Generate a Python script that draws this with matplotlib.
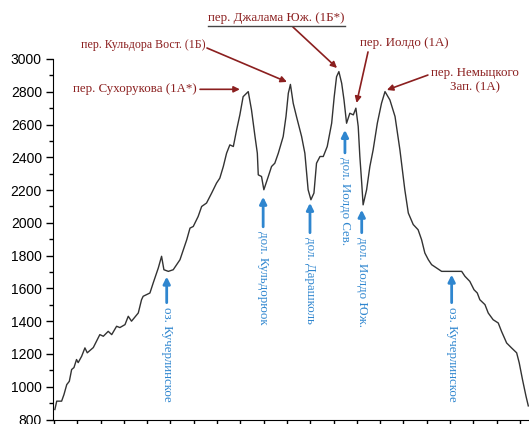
import matplotlib.pyplot as plt
from matplotlib.lines import Line2D

# profile (distance in tick units, elevation m)
dist = [0.04, 0.12, 0.33, 0.43, 0.55, 0.66, 0.76, 0.86, 0.97, 1.04, 1.19, 1.33, 1.43, 1.69,
        1.97, 2.12, 2.33, 2.48, 2.69, 2.83, 3.05, 3.19, 3.33, 3.62, 3.76, 3.83, 4.12, 4.26,
        4.48, 4.62, 4.72, 4.91, 5.12, 5.41, 5.70, 5.84, 5.98, 6.19, 6.34, 6.55, 6.77, 6.98,
        7.12, 7.27, 7.41, 7.55, 7.70, 7.84, 7.98, 8.12, 8.34, 8.48, 8.63, 8.73, 8.77, 8.91,
        9.01, 9.20, 9.34, 9.48, 9.63, 9.84, 9.96, 10.06, 10.15, 10.27, 10.41, 10.63, 10.77,
        10.91, 11.03, 11.16, 11.27, 11.42, 11.56, 11.73, 11.92, 12.03, 12.13, 12.23, 12.35,
        12.45, 12.56, 12.70, 12.85, 12.96, 13.06, 13.13, 13.21, 13.27, 13.42, 13.56, 13.70,
        13.88, 14.06, 14.21, 14.42, 14.64, 14.85, 15.06, 15.21, 15.42, 15.63, 15.78, 15.92,
        16.07, 16.21, 16.42, 16.64, 17.50, 17.64, 17.85, 18.03, 18.17, 18.28, 18.50, 18.64,
        18.85, 19.07, 19.21, 19.43, 19.64, 19.86, 19.97, 20.11, 20.26, 20.36]
elev = [861, 912, 912, 952, 1013, 1033, 1105, 1117, 1166, 1147, 1186, 1237, 1207, 1239,
        1318, 1308, 1338, 1318, 1369, 1361, 1379, 1430, 1400, 1450, 1531, 1552, 1572, 1633,
        1725, 1796, 1714, 1704, 1714, 1775, 1897, 1968, 1978, 2039, 2100, 2121, 2182, 2243,
        2273, 2344, 2425, 2476, 2466, 2567, 2659, 2770, 2801, 2689, 2527, 2425, 2293, 2283,
        2202, 2283, 2344, 2364, 2425, 2527, 2649, 2791, 2845, 2730, 2649, 2527, 2425,
        2202, 2141, 2182, 2364, 2405, 2405, 2466, 2608, 2770, 2892, 2923, 2852,
        2750, 2608, 2669, 2659, 2700, 2588, 2405, 2243, 2110, 2202, 2344, 2445,
        2608, 2730, 2801, 2750, 2649, 2445, 2202, 2060, 1990, 1958, 1897, 1816,
        1775, 1745, 1725, 1704, 1704, 1674, 1643, 1592, 1572, 1531, 1501, 1450,
        1409, 1389, 1338, 1267, 1237, 1207, 1146, 1044, 943, 883]

# passes (red): label, text pos, text align, arrow tail, arrow head
pass_labels = ['пер. Сухорукова (1А*)', 'пер. Кульдора Вост. (1Б)', 'пер. Джалама Юж. (1Б*)',
               'пер. Иолдо (1А)', 'пер. Немыцкого\nЗап. (1А)']
pass_text = [(6.14, 2815), (6.52, 3085), (9.55, 3250), (15.02, 3097), (18.07, 2872)]
pass_ha = ['right', 'right', 'center', 'center', 'center']
pass_size = [9.3, 8.6, 9.3, 9.3, 9.3]
pass_tail = [(6.27, 2815), (6.57, 3067), (10.26, 3195), (13.48, 3043), (16.05, 2902)]
pass_head = [(7.98, 2815), (10.0, 2860), (12.15, 2945), (12.99, 2732), (14.29, 2811)]

# valleys / lakes (blue)
low_labels = ['оз. Кучерлинское', 'дол. Кульдорюок', 'дол. Дарашколь',
              'дол. Иолдо Сев.', 'дол. Иолдо Юж.', 'оз. Кучерлинское']
low_x = [4.84, 8.98, 10.99, 12.49, 13.21, 17.07]
low_head = [1672, 2159, 2122, 2567, 2080, 1684]
low_tail = [1513, 1976, 1940, 2427, 1940, 1513]

red = '#8b1f1f'
blue = '#2f86cf'

fig = plt.figure(figsize=(5.29, 4.24), dpi=100)
ax = fig.add_axes([53/529, 4.5/424, 476/529, 360.5/424])
ax.plot(dist, elev, color='#333333', lw=1)

ax.set_xlim(-0.04, 20.39)
ax.set_ylim(800, 3000)
ax.set_yticks(range(800, 3001, 200))
ax.set_yticks(range(800, 3001, 100), minor=True)
ax.set_xticks(range(0, 21))
ax.set_xticklabels([])
ax.tick_params(axis='y', which='major', direction='out', length=5, width=1, pad=3,
               labelsize=10, labelfontfamily='Liberation Sans')
ax.tick_params(axis='y', which='minor', direction='out', length=3, width=1)
ax.tick_params(axis='x', direction='out', length=6, width=1)
ax.spines['top'].set_visible(False)
ax.spines['right'].set_visible(False)

serif = ['Liberation Serif', 'DejaVu Serif']
texts = []
for lab, tp, ha, fs, tl, hd in zip(pass_labels, pass_text, pass_ha, pass_size, pass_tail, pass_head):
    t = ax.text(tp[0], tp[1], lab, ha=ha, va='center', color=red, fontsize=fs,
                family=serif, multialignment='center', clip_on=False)
    texts.append(t)
    ax.annotate('', xy=hd, xytext=tl, annotation_clip=False,
                arrowprops=dict(arrowstyle='-|>', color=red, lw=1.2, mutation_scale=9,
                                shrinkA=0, shrinkB=0))

for lab, x, hy, ty in zip(low_labels, low_x, low_head, low_tail):
    ax.annotate('', xy=(x, hy), xytext=(x, ty),
                arrowprops=dict(arrowstyle='-|>', color=blue, lw=2, mutation_scale=10,
                                shrinkA=0, shrinkB=0))
    ax.text(x, ty - 25, lab, rotation=270, ha='center', va='top', color=blue,
            fontsize=9.3, family=serif)

# underline under the Джалама label
fig.canvas.draw()
bb = texts[2].get_window_extent().transformed(fig.transFigure.inverted())
fig.add_artist(Line2D([bb.x0, bb.x1], [bb.y0 - 0.004, bb.y0 - 0.004],
                      color='#444444', lw=1))

plt.savefig('out.png', dpi=100)
